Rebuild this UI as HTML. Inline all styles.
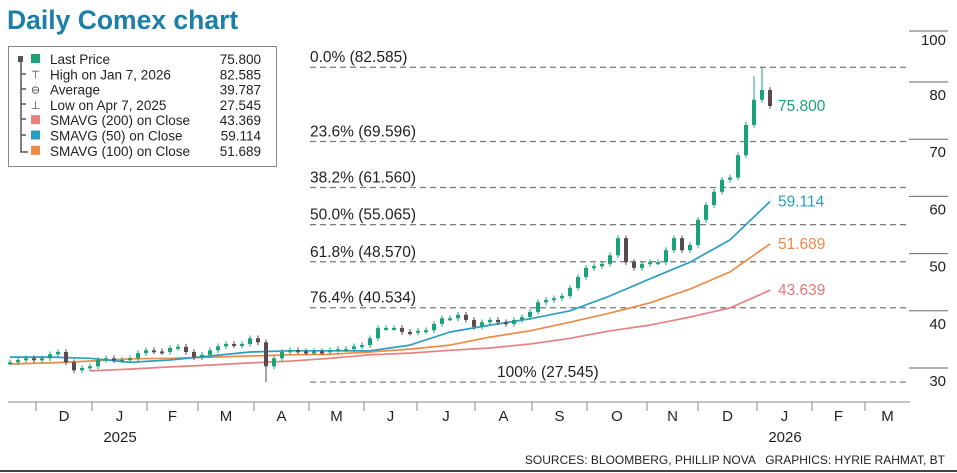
<!DOCTYPE html>
<html><head><meta charset="utf-8">
<style>
body{margin:0;background:#fff;width:957px;height:473px;overflow:hidden;font-family:"Liberation Sans",sans-serif}
svg{display:block}
text{font-family:"Liberation Sans",sans-serif}
</style></head>
<body>
<svg id="chart" width="957" height="473">
<text x="7" y="29" font-size="26.5" font-weight="bold" fill="#1b7fa8">Daily Comex chart</text>
<g id="legend">
<rect x="8.5" y="46.5" width="268" height="120" fill="#fff" stroke="#888" stroke-width="1"/>
<path d="M21 59 V152 H28 M21 74h5 M21 89h5 M21 104h5 M21 119h5 M21 135h5" stroke="#555" stroke-width="1.5" fill="none"/>
<rect x="18" y="56" width="5" height="6" fill="#555"/>
</g>
<g id="fib"></g><g id="axes"></g><g id="mas"></g><g id="candles"></g><g id="labels"></g>
<text x="945" y="464" font-size="12" text-anchor="end" fill="#222">SOURCES: BLOOMBERG, PHILLIP NOVA &#160;&#160;GRAPHICS: HYRIE RAHMAT, BT</text>
<line x1="0" y1="471" x2="957" y2="471" stroke="#444" stroke-width="2"/>
</svg>
<script>
const closes=[31.0,31.4,31.7,31.4,31.7,32.4,32.8,31.0,29.6,30.0,30.3,31.4,31.7,31.4,31.4,31.7,32.6,33.1,32.9,32.8,33.5,33.7,32.8,31.9,32.3,33.1,33.8,34.2,34.0,34.2,35.2,34.5,30.3,31.7,32.8,33.1,32.9,32.8,32.9,32.8,33.1,33.3,33.3,33.8,34.0,35.2,37.0,37.0,37.0,36.3,36.2,36.5,36.6,37.7,38.7,38.7,39.3,38.4,37.2,38.0,38.4,38.0,37.7,38.4,38.9,39.8,41.5,41.9,42.2,42.6,44.0,45.9,47.5,47.8,48.2,49.7,52.7,48.5,47.5,48.2,48.5,48.5,50.6,52.7,50.6,51.5,55.9,58.5,60.8,62.9,63.3,67.2,72.5,76.9,78.6,75.8];
const spikeIdx=[32,93,94];
const spikeVal=[27.545,81.0,82.585];
const maIdx=[0,5,10,15,20,25,30,35,40,45,50,55,60,65,70,75,80,85,90,95];
const sma50=[31.9,31.9,31.7,31.0,31.4,32.1,32.8,33.0,33.0,33.0,34.0,36.3,37.5,38.6,40.0,42.6,45.6,48.5,52.4,59.1];
const sma100=[30.7,30.9,31.2,31.6,31.7,31.9,32.1,32.3,32.4,32.8,33.3,34.0,35.4,36.5,38.0,39.6,41.4,43.8,46.8,51.7];
const sma200=[null,null,29.5,29.8,30.2,30.5,30.9,31.2,31.7,32.3,32.6,33.1,33.5,34.2,35.2,36.5,37.5,38.9,40.5,43.6];
const fibLevels=[82.585,69.596,61.560,55.065,48.570,40.534,27.545];
const fibNames=["0.0% (82.585)","23.6% (69.596)","38.2% (61.560)","50.0% (55.065)","61.8% (48.570)","76.4% (40.534)","100% (27.545)"];
const yTicks=[30,40,50,60,70,80,89];
const yTickLabels=["30","40","50","60","70","80","100"];
const monthLabels=["D","J","F","M","A","M","J","J","A","S","O","N","D","J","F","M"];
const legendNames=["Last Price","High on Jan 7, 2026","Average","Low on Apr 7, 2025","SMAVG (200) on Close","SMAVG (50) on Close","SMAVG (100) on Close"];
const legendValues=["75.800","82.585","39.787","27.545","43.369","59.114","51.689"];

const NS="http://www.w3.org/2000/svg";
const x=i=>10+i*8;
const y=v=>82+(80-v)*5.72;
function el(tag,attrs,parent,txt){const e=document.createElementNS(NS,tag);for(const k in attrs)e.setAttribute(k,attrs[k]);if(txt!==undefined)e.textContent=txt;parent.appendChild(e);return e;}
const G=id=>document.getElementById(id);

// legend
const lg=G('legend');
const sw=['#1aa37a',null,null,null,'#e88080','#2a9fc4','#ef8a45'];
const sym=['','\u22A4','\u2296','\u22A5','','',''];
legendNames.forEach((n,i)=>{
  const yy=59+i*15.3;
  if(sw[i]){const r=el('rect',{x:31,y:yy-5,width:9,height:9,fill:sw[i]},lg);
    }
  else{const s=el('text',{x:35.5,y:yy+4,'font-size':11,'text-anchor':'middle',fill:'#444'},lg,sym[i]);
    }
  const t=el('text',{x:50,y:yy+5,'font-size':13.5,fill:'#222',textLength:n.length*6.95>146?146:null,lengthAdjust:'spacingAndGlyphs'},lg,n);
  if(t.getAttribute('textLength')==='null')t.removeAttribute('textLength');
  
  const v=el('text',{x:261,y:yy+5,'font-size':13.5,'text-anchor':'end',fill:'#222'},lg,legendValues[i]);
  
});

// fib
const fg=G('fib');
fibLevels.forEach((v,i)=>{
  const l=el('line',{x1:310,x2:908,y1:y(v),y2:y(v),stroke:'#777','stroke-width':1.2,'stroke-dasharray':'6,4'},fg);
  
  const t=el('text',{x:i==6?497:310,y:y(v)-5,'font-size':15.5,fill:'#222'},fg,fibNames[i]);
  
});

// axes
const ax=G('axes');
yTicks.forEach((v,i)=>{
  const yy=v===89?31:y(v);
  const l=el('line',{x1:909,x2:948,y1:yy,y2:yy,stroke:'#666','stroke-width':1},ax);
  
  const t=el('text',{x:946,y:yy+(v===89?14:18),'font-size':15,'text-anchor':'end',fill:'#222'},ax,yTickLabels[i]);
  
});
const xl=el('line',{x1:8,x2:910,y1:402,y2:402,stroke:'#888','stroke-width':1},ax);

const mpos=[36,92,147,198,254,309,364,417,475,532,587,647,698,757,812,865,910];
mpos.forEach((p,i)=>{
  if(i<mpos.length-1){const l=el('line',{x1:p,x2:p,y1:402,y2:411,stroke:'#888','stroke-width':1},ax);
  }
  if(i<monthLabels.length){const t=el('text',{x:(p+mpos[i+1])/2,y:421,'font-size':15,'text-anchor':'middle',fill:'#222'},ax,monthLabels[i]);
  }
});
const y1=el('text',{x:120,y:442,'font-size':15,'text-anchor':'middle',fill:'#222'},ax,'2025');

const y2=el('text',{x:785,y:442,'font-size':15,'text-anchor':'middle',fill:'#222'},ax,'2026');


// moving averages
const mg=G('mas');
function line(arr,color,name){
  let d='';arr.forEach((v,k)=>{if(v==null)return;d+=(d?'L':'M')+x(maIdx[k]).toFixed(1)+' '+y(v).toFixed(1);});
  const p=el('path',{d:d,fill:'none',stroke:color,'stroke-width':1.7,'stroke-linejoin':'round'},mg);
  
}
line(sma200,'#e88080','sma-200-line');
line(sma100,'#ef8a45','sma-100-line');
line(sma50,'#2a9fc4','sma-50-line');

// candles
const cg=G('candles');
closes.forEach((c,i)=>{
  const o=i?closes[i-1]:c;
  let hi=Math.max(o,c)+0.5,lo=Math.min(o,c)-0.5;
  const si=spikeIdx.indexOf(i);
  if(si>=0){if(spikeVal[si]>c)hi=spikeVal[si];else lo=spikeVal[si];}
  const up=c>=o;const col=up?'#1aa37a':'#5a4a4e';
  const w=el('line',{x1:x(i),x2:x(i),y1:y(hi),y2:y(lo),stroke:col,'stroke-width':1},cg);
  
  const top=y(Math.max(o,c)),h=Math.max(2,Math.abs(y(o)-y(c)));
  const b=el('rect',{x:x(i)-2,y:top,width:4,height:h,fill:col},cg);
  
});

// end labels
const lb=G('labels');
[[closes[closes.length-1],'75.800','#1aa37a','last-price-label'],[sma50[sma50.length-1],'59.114','#2a9fc4','sma-50-label'],[sma100[sma100.length-1],'51.689','#ef8a45','sma-100-label'],[sma200[sma200.length-1],'43.639','#e07a7a','sma-200-label']].forEach(a=>{
  const t=el('text',{x:778,y:y(a[0])+5,'font-size':15.5,fill:a[2]},lb,a[1]);
  
});
</script>
</body></html>
